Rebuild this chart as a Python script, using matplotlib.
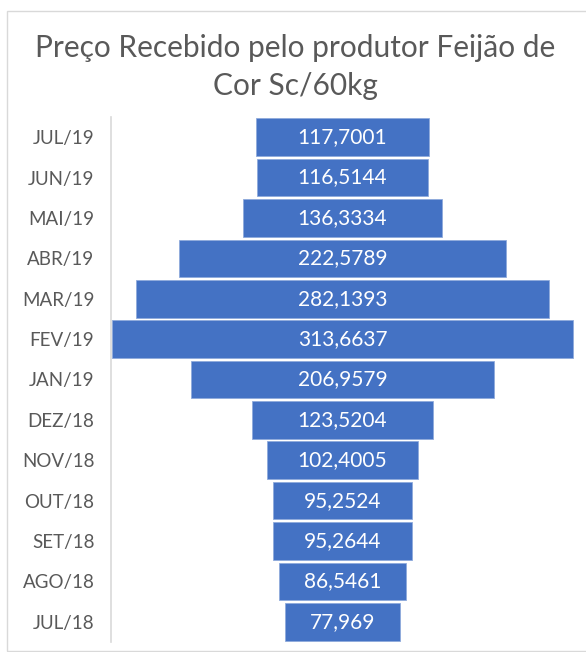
import matplotlib
matplotlib.use("Agg")
import matplotlib.pyplot as plt
from matplotlib.patches import Rectangle

categories = ["JUL/19", "JUN/19", "MAI/19", "ABR/19", "MAR/19", "FEV/19", "JAN/19",
              "DEZ/18", "NOV/18", "OUT/18", "SET/18", "AGO/18", "JUL/18"]
values = [117.7001, 116.5144, 136.3334, 222.5789, 282.1393, 313.6637, 206.9579,
          123.5204, 102.4005, 95.2524, 95.2644, 86.5461, 77.969]
value_labels = ["117,7001", "116,5144", "136,3334", "222,5789", "282,1393", "313,6637",
                "206,9579", "123,5204", "102,4005", "95,2524", "95,2644", "86,5461", "77,969"]

plt.rcParams['font.family'] = ['Lato', 'DejaVu Sans']
W, H = 586, 652
fig = plt.figure(figsize=(W/100, H/100), dpi=100)

# chart border
fig.patches.append(Rectangle((7/W, 1 - 651/H), (W + 5 - 7)/W, (651 - 11)/H,
                             transform=fig.transFigure, fill=False,
                             edgecolor="#D9D9D9", linewidth=1))

ax = fig.add_axes([111/W, 1 - 642/H, (574 - 111)/W, (642 - 117)/H])
vmax = max(values)
n = len(values)
ypos = list(range(n))
lefts = [-v/2 for v in values]
ax.barh(ypos, values, left=lefts, height=0.93, color="#4472C4",
        edgecolor="#8FAADC", linewidth=0.6)
for y, lab in zip(ypos, value_labels):
    ax.text(0, y, lab, ha="center", va="center", color="white", fontsize=15)
ax.set_xlim(-vmax/2 - 1, vmax/2 + 1)
ax.set_ylim(n - 0.5, -0.5)
ax.set_yticks(ypos)
ax.set_yticklabels(categories, fontsize=13.5, color="#595959")
ax.tick_params(axis="y", length=0, pad=12)
ax.set_xticks([])
for s in ["top", "right", "bottom"]:
    ax.spines[s].set_visible(False)
ax.spines["left"].set_color("#D9D9D9")
ax.spines["left"].set_linewidth(1.2)

fig.text(0.5 * (586 + 5) / W, 1 - 48/H, "Preço Recebido pelo produtor Feijão de",
         ha="center", va="center", fontsize=21.5, color="#595959")
fig.text(0.5 * (586 + 5) / W, 1 - 86/H, "Cor Sc/60kg",
         ha="center", va="center", fontsize=21.5, color="#595959")

fig.savefig("out.png", dpi=100)
